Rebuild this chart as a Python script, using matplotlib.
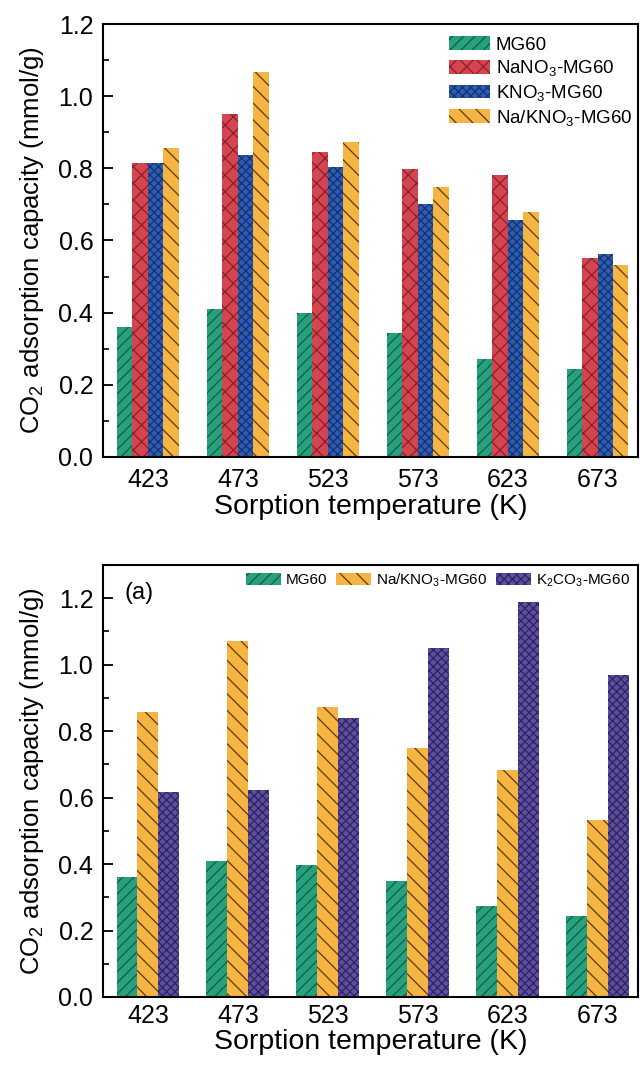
import matplotlib
matplotlib.use("Agg")
import matplotlib.pyplot as plt
import numpy as np

plt.rcParams['font.family'] = ['Liberation Sans', 'DejaVu Sans']
plt.rcParams['mathtext.default'] = 'regular'
plt.rcParams['hatch.linewidth'] = 0.9

temps = ['423', '473', '523', '573', '623', '673']

# top panel
mg60 = [0.36, 0.41, 0.40, 0.345, 0.272, 0.244]
nano3 = [0.815, 0.950, 0.845, 0.798, 0.782, 0.552]
kno3 = [0.815, 0.836, 0.805, 0.700, 0.656, 0.563]
nak = [0.855, 1.068, 0.872, 0.747, 0.680, 0.531]

# bottom panel
mg60_b = [0.36, 0.41, 0.398, 0.348, 0.274, 0.244]
nak_b = [0.857, 1.070, 0.874, 0.749, 0.682, 0.532]
k2co3 = [0.617, 0.623, 0.840, 1.050, 1.190, 0.970]

top_labels = ['MG60', 'NaNO$_3$-MG60', 'KNO$_3$-MG60', 'Na/KNO$_3$-MG60']
bot_labels = ['MG60', 'Na/KNO$_3$-MG60', 'K$_2$CO$_3$-MG60']

styles = {
    'MG60': dict(facecolor='#28a07e', edgecolor='#0c5f46', hatch='///'),
    'NaNO3': dict(facecolor='#d4454f', edgecolor='#8a1f2c', hatch='xx'),
    'KNO3': dict(facecolor='#2c5db3', edgecolor='#16306e', hatch='xxxx'),
    'NaK': dict(facecolor='#f6b443', edgecolor='#5a3c08', hatch='\\\\'),
    'K2CO3': dict(facecolor='#5e4f9e', edgecolor='#2c2260', hatch='xxxx'),
}

fig = plt.figure(figsize=(6.4, 10.7), dpi=100)
ax1 = fig.add_axes([103/640, (1070-457)/1070, 535/640, 433/1070])
ax2 = fig.add_axes([103/640, (1070-997)/1070, 535/640, 432/1070])

x = np.arange(len(temps))

w = 0.172
for i, (vals, key, lab) in enumerate(zip([mg60, nano3, kno3, nak],
                                         ['MG60', 'NaNO3', 'KNO3', 'NaK'], top_labels)):
    ax1.bar(x + (i - 1.5) * w, vals, width=w, linewidth=0, label=lab, **styles[key])

w2 = 0.233
for i, (vals, key, lab) in enumerate(zip([mg60_b, nak_b, k2co3],
                                         ['MG60', 'NaK', 'K2CO3'], bot_labels)):
    ax2.bar(x + (i - 1) * w2, vals, width=w2, linewidth=0, label=lab, **styles[key])

for ax, ytop, xpad in [(ax1, 1.2, 8), (ax2, 1.3, 5)]:
    ax.set_xlim(-0.5, 5.45)
    ax.set_ylim(0, ytop)
    ax.set_xticks(x)
    ax.set_xticklabels(temps)
    ax.set_yticks(np.arange(0, 1.21, 0.2))
    ax.set_yticks(np.arange(0.1, ytop, 0.2), minor=True)
    ax.yaxis.set_major_formatter(matplotlib.ticker.FormatStrFormatter('%.1f'))
    ax.tick_params(axis='y', which='major', direction='in', length=7, width=1.3,
                   labelsize=18, pad=7)
    ax.tick_params(axis='y', which='minor', direction='in', length=4, width=1.2)
    ax.tick_params(axis='x', which='both', length=0, labelsize=18, pad=xpad)
    for s in ax.spines.values():
        s.set_linewidth(1.5)
    ax.set_xlabel('Sorption temperature (K)', fontsize=20.5, labelpad=1)
    ax.set_ylabel('CO$_2$ adsorption capacity (mmol/g)', fontsize=18.5, labelpad=9)

ax1.legend(loc='upper right', fontsize=13.5, frameon=False, handlelength=2.2,
           handleheight=0.75, labelspacing=0.25, handletextpad=0.3,
           bbox_to_anchor=(1.012, 1.0), borderaxespad=0.25)

ax2.legend(loc='upper right', fontsize=11, frameon=False, ncol=3, handlelength=2.3,
           handleheight=0.85, handletextpad=0.3, columnspacing=0.6,
           bbox_to_anchor=(1.005, 1.01), borderaxespad=0.3)
ax2.text(0.04, 0.96, '(a)', transform=ax2.transAxes, fontsize=17, va='top', ha='left')

fig.savefig('out.png', dpi=100)
